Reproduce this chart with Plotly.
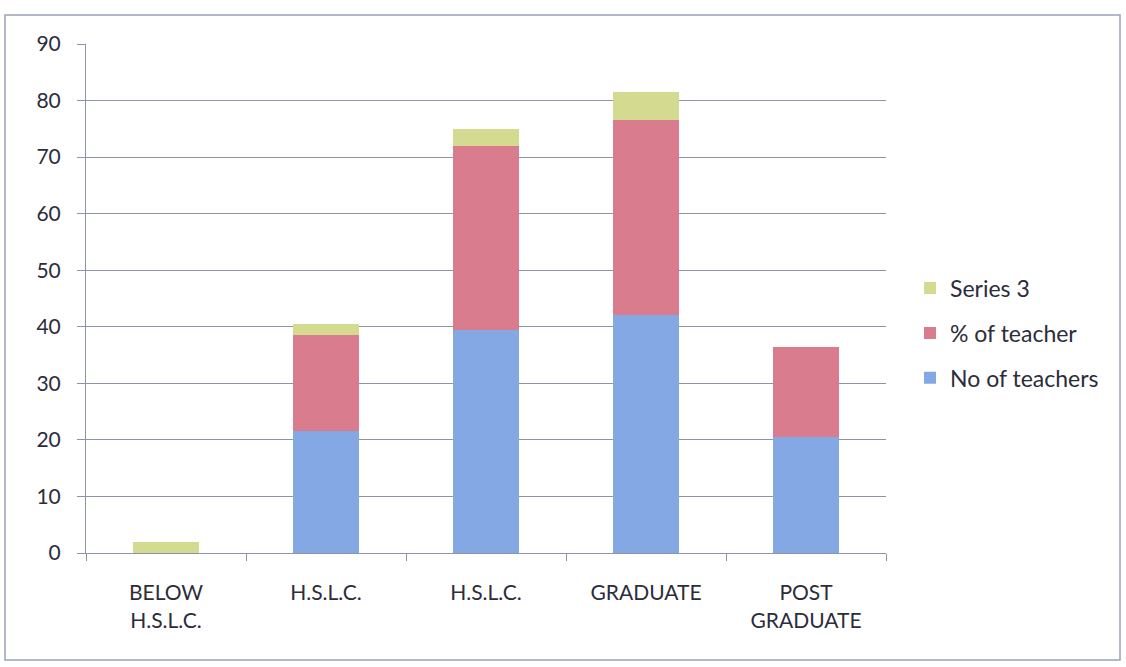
import plotly.graph_objects as go

categories = ["BELOW<br>H.S.L.C.", "H.S.L.C.", "H.S.L.C.", "GRADUATE", "POST<br>GRADUATE"]
no_of_teachers = [0, 21.5, 39.5, 42, 20.5]
pct_of_teacher = [0, 17, 32.5, 34.5, 16]
series3 = [2, 2, 3, 5, 0]
y_ticks = [0, 10, 20, 30, 40, 50, 60, 70, 80, 90]

x_pos = list(range(len(categories)))
FONT = "Lato, 'Open Sans', sans-serif"
TXT = "#2b2d3a"
GRID = "#8d93a8"

fig = go.Figure()
fig.add_trace(go.Bar(x=x_pos, y=no_of_teachers, name="No of teachers", legendgroup="a",
                     legendrank=3, marker=dict(color="#84a8e4", line=dict(width=0))))
fig.add_trace(go.Bar(x=x_pos, y=pct_of_teacher, name="% of teacher", legendgroup="b",
                     legendrank=2, marker=dict(color="#d97c8e", line=dict(width=0))))
fig.add_trace(go.Bar(x=x_pos, y=series3, name="Series 3", legendgroup="c",
                     legendrank=1, marker=dict(color="#d4da90", line=dict(width=0))))

fig.update_layout(
    barmode="stack",
    bargap=0.59,
    width=1126, height=667,
    margin=dict(l=86, r=240, t=44, b=114),
    paper_bgcolor="white", plot_bgcolor="white",
    font=dict(family=FONT, size=21, color=TXT),
    legend=dict(x=1.03, xanchor="left", y=0.432, yanchor="middle",
                traceorder="grouped", tracegroupgap=12,
                font=dict(size=23, color=TXT), itemwidth=30),
    showlegend=True,
)
fig.update_xaxes(
    range=[-0.5, len(categories) - 0.5],
    tickmode="array", tickvals=x_pos, ticktext=categories,
    ticks="", showgrid=False, zeroline=False,
    showline=True, linecolor=GRID, linewidth=1,
    ticklabelstandoff=21,
    tickfont=dict(size=21, color=TXT),
    minor=dict(tickmode="array", tickvals=[-0.5, 0.5, 1.5, 2.5, 3.5, 4.5],
               ticks="outside", ticklen=7, tickcolor=GRID, showgrid=False),
)
fig.update_yaxes(
    range=[0, 90], tickmode="array", tickvals=y_ticks,
    ticks="outside", ticklen=8, tickcolor=GRID,
    showgrid=True, gridcolor=GRID, gridwidth=1,
    showline=True, linecolor=GRID, linewidth=1,
    zeroline=False, ticklabelstandoff=12,
    tickfont=dict(size=21, color=TXT),
)
fig.add_shape(type="rect", xref="paper", yref="paper",
              x0=-81/800, x1=1034/800, y0=-107/509, y1=1 + 29/509,
              line=dict(color="#9aa3bb", width=1.5))

fig.write_html("out.html")
